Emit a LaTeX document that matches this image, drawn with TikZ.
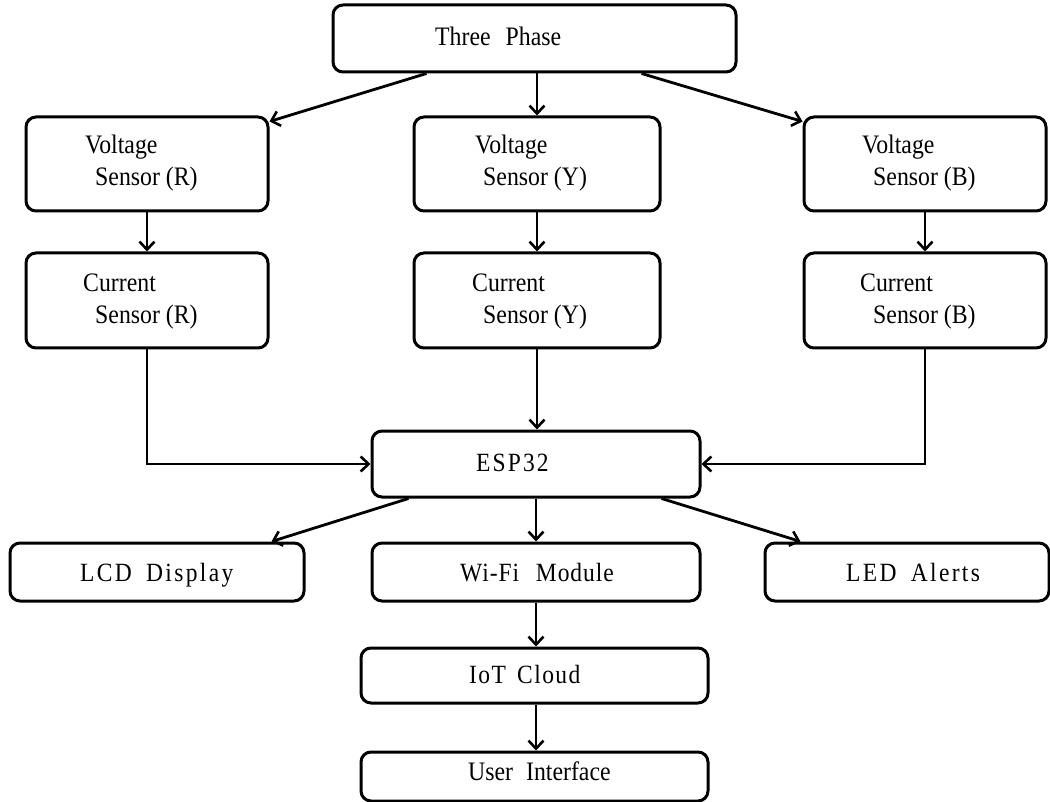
\documentclass[tikz,border=0pt]{standalone}
\usepackage{fontspec}
\usepackage{graphicx}
\setmainfont{Liberation Serif}
\usetikzlibrary{arrows.meta,fit}
\newcommand{\tallt}[1]{\scalebox{1}[1.12]{#1}}
\begin{document}
\begin{tikzpicture}[x=1pt,y=-1pt,
  box/.style={draw, line width=3pt, rounded corners=10pt, inner sep=0pt},
  txt/.style={anchor=base west, inner sep=0pt, font=\fontsize{23.8}{28}\selectfont},
  ls/.style={anchor=base west, inner sep=0pt, font=\fontsize{23.5}{28}\selectfont\addfontfeatures{LetterSpace=#1}},
  arr/.style={line width=2.8pt, -{Straight Barb[length=8pt,width=15pt,line width=2.6pt]}}]
\useasboundingbox (0,0) rectangle (1050,802);
% boxes
\node[box, fit={(333,5)(736,72)}] (tp) {};
\node[box, fit={(26,117)(268,211)}] (vr) {};
\node[box, fit={(414,117)(660,211)}] (vy) {};
\node[box, fit={(804,117)(1046,211)}] (vb) {};
\node[box, fit={(26,253)(268,348)}] (cr) {};
\node[box, fit={(414,253)(660,348)}] (cy) {};
\node[box, fit={(804,253)(1046,348)}] (cb) {};
\node[box, fit={(372,431)(700,497)}] (esp) {};
\node[box, fit={(10,543)(304,601)}] (lcd) {};
\node[box, fit={(372,543)(700,601)}] (wifi) {};
\node[box, fit={(765,543)(1049,601)}] (led) {};
\node[box, fit={(361,648)(708,703)}] (iot) {};
\node[box, fit={(361,752)(708,801)}] (ui) {};
% texts
\node[txt] (tpt) at (435,46) {\tallt{Three\hspace{9pt} Phase}};
\node[txt] (vrt1) at (85,154) {\tallt{Voltage}};
\node[txt] (vrt2) at (95,186) {\tallt{Sensor (R)}};
\node[txt] (vyt1) at (475,154) {\tallt{Voltage}};
\node[txt] (vyt2) at (483,186) {\tallt{Sensor (Y)}};
\node[txt] (vbt1) at (862,154) {\tallt{Voltage}};
\node[txt] (vbt2) at (873,186) {\tallt{Sensor (B)}};
\node[txt] (crt1) at (83,292) {\tallt{Current}};
\node[txt] (crt2) at (95,324) {\tallt{Sensor (R)}};
\node[txt] (cyt1) at (472,292) {\tallt{Current}};
\node[txt] (cyt2) at (483,324) {\tallt{Sensor (Y)}};
\node[txt] (cbt1) at (860,292) {\tallt{Current}};
\node[txt] (cbt2) at (873,324) {\tallt{Sensor (B)}};
\node[ls=9] (espt) at (476,471) {\tallt{ESP32}};
\node[ls=10] (lcdt) at (80,581) {\tallt{LCD\hspace{6pt} Display}};
\node[ls=4] (wifit) at (460,581) {\tallt{Wi-Fi\hspace{10pt} Module}};
\node[ls=10] (ledt) at (846,581) {\tallt{LED\hspace{6pt} Alerts}};
\node[ls=6] (iott) at (469,683) {\tallt{IoT\hspace{4pt} Cloud}};
\node[txt] (uit) at (468,780) {\tallt{User\hspace{7pt} Interface}};
% connectors
\draw[arr] ([xshift=95pt]tp.south west) -- ([yshift=-6pt]vr.north east);
\draw[arr] (tp.south -| vy.north) -- (vy.north);
\draw[arr] ([xshift=310pt]tp.south west) -- ([yshift=-6pt]vb.north west);
\draw[arr] (vr.south) -- (cr.north);
\draw[arr] (vy.south) -- (cy.north);
\draw[arr] (vb.south) -- (cb.north);
\draw[arr] (cr.south) |- (esp.west);
\draw[arr] (cy.south) -- (cy.south |- esp.north);
\draw[arr] (cb.south) |- (esp.east);
\draw[arr] ([xshift=38pt]esp.south west) -- ([xshift=-34pt]lcd.north east);
\draw[arr] (esp.south) -- (wifi.north);
\draw[arr] ([xshift=-40pt]esp.south east) -- ([xshift=37pt]led.north west);
\draw[arr] (wifi.south) -- (wifi.south |- iot.north);
\draw[arr] (iot.south -| wifi.south) -- (wifi.south |- ui.north);
\end{tikzpicture}
\end{document}
